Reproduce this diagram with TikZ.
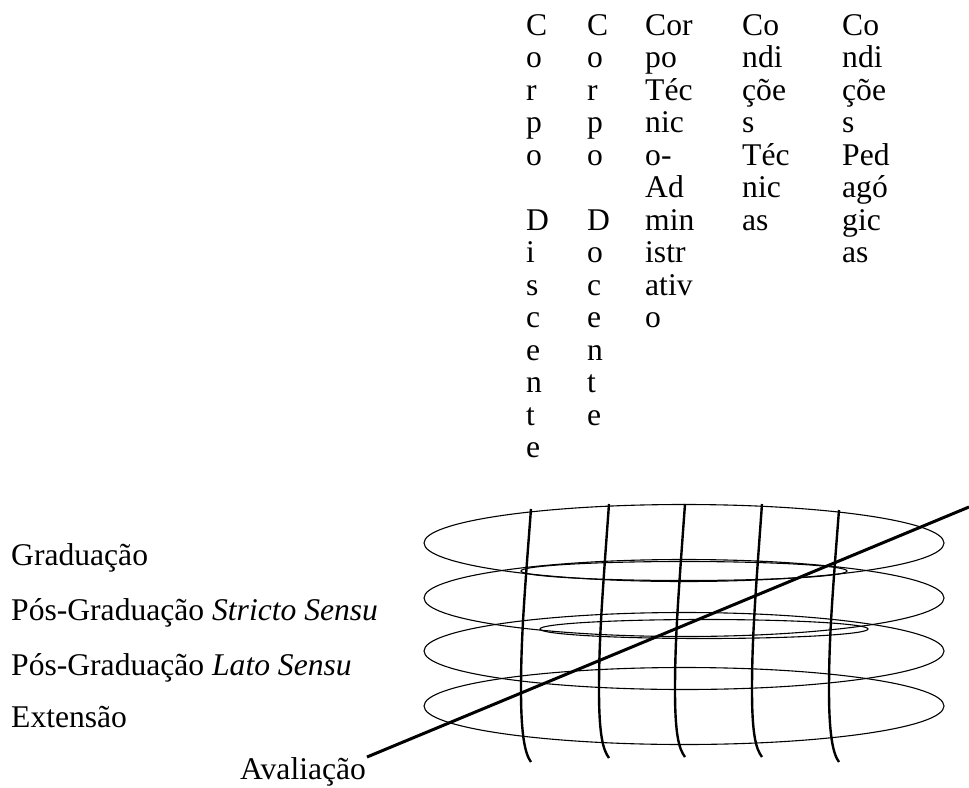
\documentclass[tikz,border=0pt]{standalone}
\usepackage{fontspec}
\setmainfont{Liberation Serif}
\begin{document}
\begin{tikzpicture}[x=1pt,y=-1pt,
  lbl/.style={anchor=base west,inner sep=0pt,font=\fontsize{31.6}{32.5}\selectfont},
  colt/.style={anchor=north west,inner sep=0pt,align=left,font=\fontsize{31.6}{32.5}\selectfont},
  ring/.style={draw=black,line width=1.1pt},
  vline/.style={draw=black,line width=2.4pt},
  axis/.style={draw=black,line width=3pt}]
\useasboundingbox (0,0) rectangle (969,787);
% column headings
\node[colt] (c1) at (526,14) {C\\o\\r\\p\\o\\\mbox{}\\D\\i\\s\\c\\e\\n\\t\\e};
\node[colt] (c2) at (587,14) {C\\o\\r\\p\\o\\\mbox{}\\D\\o\\c\\e\\n\\t\\e};
\node[colt] (c3) at (645,14) {Cor\\po\\Téc\\nic\\o-\\Ad\\min\\istr\\ativ\\o};
\node[colt] (c4) at (742,14) {Co\\ndi\\çõe\\s\\Téc\\nic\\as};
\node[colt] (c5) at (842,14) {Co\\ndi\\çõe\\s\\Ped\\agó\\gic\\as};
% level labels
\node[lbl] (g) at (11,565) {Graduação};
\node[lbl] (ss) at (11,620) {Pós-Graduação \textit{Stricto Sensu}};
\node[lbl] (ls) at (11,675) {Pós-Graduação \textit{Lato Sensu}};
\node[lbl] (ex) at (11,727) {Extensão};
\node[lbl] (av) at (240,779) {Avaliação};
% rings
\draw[ring] (684,543) ellipse [x radius=260, y radius=38.5];
\draw[ring] (684,598) ellipse [x radius=260, y radius=38.5];
\draw[ring] (684,651) ellipse [x radius=260, y radius=38.5];
\draw[ring] (684,706) ellipse [x radius=260, y radius=38.5];
\draw[ring] (684,571) ellipse [x radius=163, y radius=9.5];
\draw[ring] (704,629) ellipse [x radius=164, y radius=9.5];
% vertical threads
\foreach \x/\t/\b in {531/509/762, 609/504/758, 685/504/757, 762/504/757, 839/510/762}{
  \draw[vline] (\x,\t) .. controls ({\x-7},600) and ({\x-10},640) .. ({\x-10},690)
     .. controls ({\x-10},735) and ({\x-6},{\b-8}) .. (\x,\b);
}
% evaluation axis
\coordinate (avs) at (367,757);
\coordinate (ave) at (969,507);
\draw[axis] (avs) -- (ave);
\end{tikzpicture}
\end{document}
